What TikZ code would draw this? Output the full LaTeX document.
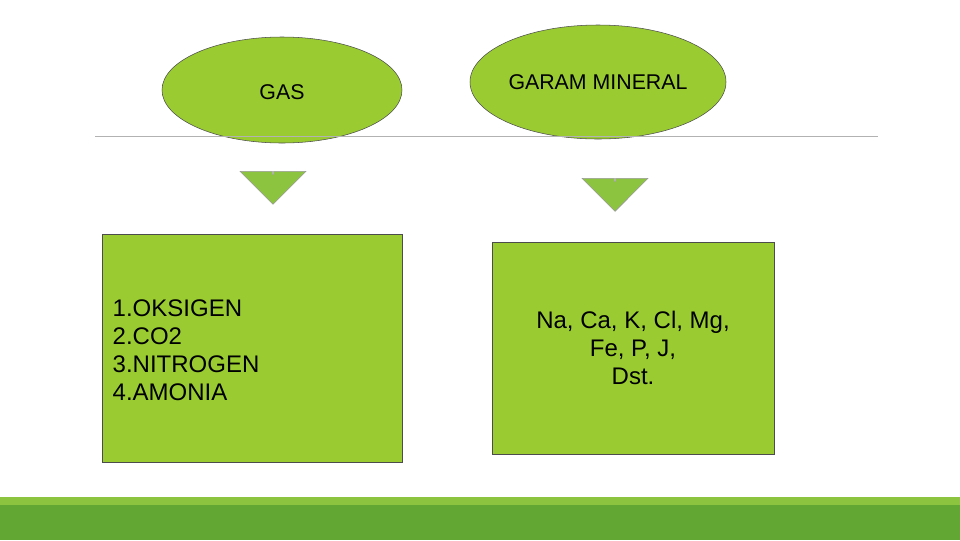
\documentclass[tikz,border=0pt]{standalone}
\usepackage{fontspec}
\setmainfont{Liberation Sans}
\usetikzlibrary{shapes,positioning}
\definecolor{leafgreen}{RGB}{154,204,50}
\definecolor{bargreen}{RGB}{98,166,52}
\definecolor{barlight}{RGB}{140,196,64}
\tikzset{
    blob/.style={ellipse, draw=black!70, fill=leafgreen, inner sep=0pt},
    listbox/.style={rectangle, draw=black!70, fill=leafgreen, inner sep=0pt},
    downarrow/.style={single arrow, shape border rotate=270, draw=black!40, fill=barlight, minimum width=66\px, minimum height=30\px, single arrow head extend=0pt, single arrow tip angle=90, inner sep=0pt}
}
\newlength{\px}\setlength{\px}{0.75pt}
\begin{document}
\begin{tikzpicture}[x=0.75pt, y=-0.75pt]
    \useasboundingbox (0,0) rectangle (960,540);
    \node [blob, minimum width=240\px, minimum height=106\px] (gas) at (282,90) {};
    \node [font=\fontsize{16}{19}\selectfont] at (282,92) {GAS};
    \node [blob, minimum width=256\px, minimum height=114\px, font=\fontsize{16}{19}\selectfont] (garam) at (598,82) {GARAM MINERAL};
    \draw [black!30] (95,136) -- (878,136);

    % arrows
    \node [single arrow, shape border rotate=270, draw=black!40, fill=barlight, minimum width=66\px, minimum height=30\px, single arrow head extend=12\px, inner sep=0pt] (arrowL) at (273,189) {};
    \node [single arrow, shape border rotate=270, draw=black!40, fill=barlight, minimum width=66\px, minimum height=30\px, single arrow head extend=12\px, inner sep=0pt] (arrowR) at (615,196) {};

    % boxes
    \node [listbox, minimum width=300\px, minimum height=228\px] (gasbox) at (252,348) {};
    \node [anchor=west, align=left, font=\fontsize{18}{21}\selectfont] (gaslist) at (108,350)
        {1.OKSIGEN\\2.CO2\\3.NITROGEN\\4.AMONIA};
    \node [listbox, minimum width=282\px, minimum height=212\px, align=center, font=\fontsize{18}{21}\selectfont] (garambox) at (633,348)
        {Na, Ca, K, Cl, Mg,\\Fe, P, J,\\Dst.};

    % bottom band
    \fill [barlight] (0,497) rectangle (960,505);
    \fill [bargreen] (0,505) rectangle (960,540);
\end{tikzpicture}
\end{document}
